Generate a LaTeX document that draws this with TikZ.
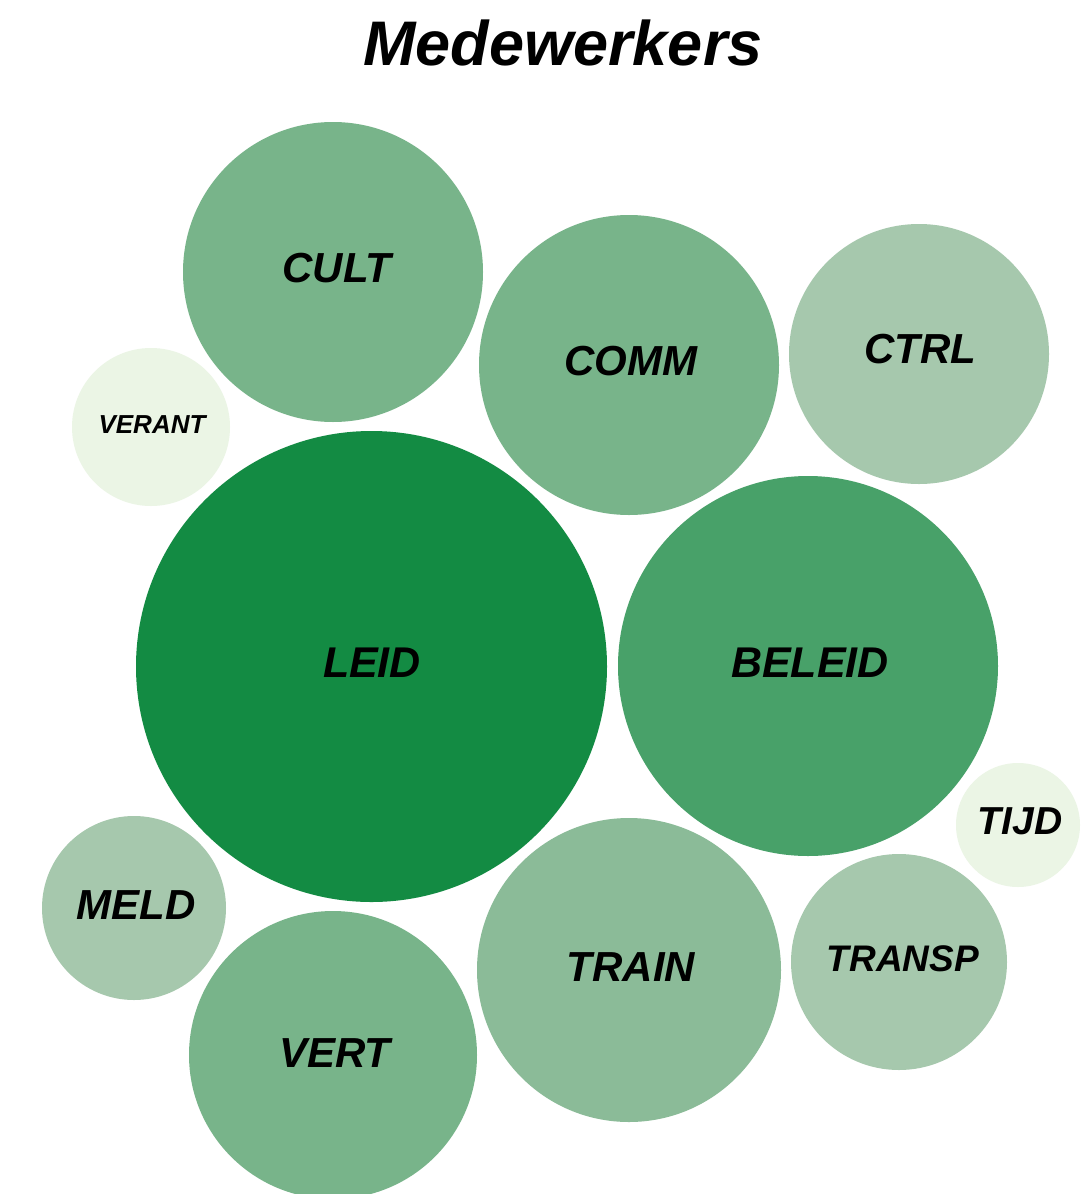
\documentclass[tikz,border=0pt]{standalone}
\usepackage{fontspec}
\setmainfont{Liberation Sans}
\definecolor{cA}{HTML}{138B43}
\definecolor{cB}{HTML}{48A169}
\definecolor{cC}{HTML}{78B48A}
\definecolor{cD}{HTML}{8BBB98}
\definecolor{cE}{HTML}{A6C8AD}
\definecolor{cF}{HTML}{EBF5E5}
\tikzset{
  bubble/.style={circle, inner sep=0pt, draw=none, minimum size=#1},
  lbl/.style={anchor=base, inner sep=0pt, font=\bfseries\itshape\fontsize{#1}{#1}\selectfont}
}
\begin{document}
\begin{tikzpicture}[x=1pt,y=-1pt]
\useasboundingbox[fill=white] (0,0) rectangle (1084,1194);
\node[lbl=63] (title) at (563,65) {Medewerkers};
\node[bubble=300pt, fill=cC] (cult) at (333,272) {};
\node[bubble=300pt, fill=cC] (comm) at (629,365) {};
\node[bubble=260pt, fill=cE] (ctrl) at (919,354) {};
\node[bubble=158pt, fill=cF] (verant) at (151,427) {};
\node[bubble=471pt, fill=cA] (leid) at (371.5,666.5) {};
\node[bubble=380pt, fill=cB] (beleid) at (808,666) {};
\node[bubble=124pt, fill=cF] (tijd) at (1018,825) {};
\node[bubble=184pt, fill=cE] (meld) at (134,908) {};
\node[bubble=288pt, fill=cC] (vert) at (333,1055) {};
\node[bubble=304pt, fill=cD] (train) at (629,970) {};
\node[bubble=216pt, fill=cE] (transp) at (899,962) {};
\node[lbl=42] (tcult) at (337,282) {CULT};
\node[lbl=42] (tcomm) at (631,375) {COMM};
\node[lbl=42] (tctrl) at (920,363) {CTRL};
\node[lbl=26] (tverant) at (152,433) {VERANT};
\node[lbl=43] (tleid) at (372,677) {LEID};
\node[lbl=43] (tbeleid) at (810,677) {BELEID};
\node[lbl=39] (ttijd) at (1020,834) {TIJD};
\node[lbl=42] (tmeld) at (136,919) {MELD};
\node[lbl=37] (ttransp) at (903,971) {TRANSP};
\node[lbl=42] (ttrain) at (631,981) {TRAIN};
\node[lbl=42] (tvert) at (335,1067) {VERT};
\end{tikzpicture}
\end{document}
